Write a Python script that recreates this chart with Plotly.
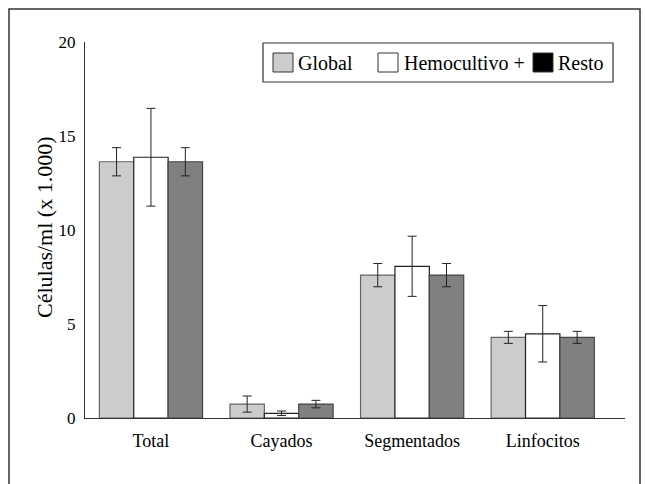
import plotly.graph_objects as go

categories = ["Total", "Cayados", "Segmentados", "Linfocitos"]
series_names = ["Global", "Hemocultivo +", "Resto"]
global_vals = [13.63, 0.74, 7.60, 4.29]
global_err = [0.75, 0.43, 0.62, 0.32]
hemo_vals = [13.87, 0.25, 8.07, 4.48]
hemo_err = [2.60, 0.12, 1.60, 1.50]
resto_vals = [13.63, 0.74, 7.60, 4.29]
resto_err = [0.75, 0.20, 0.62, 0.32]
y_ticks = [0, 5, 10, 15, 20]

bar_colors = ["#cccccc", "#ffffff", "#808080"]
line_colors = ["#666666", "#222222", "#444444"]
legend_colors = ["#cccccc", "#ffffff", "#000000"]

FONT = "Liberation Serif"

fig = go.Figure()
for name, vals, errs, col, lc in zip(series_names,
                                      [global_vals, hemo_vals, resto_vals],
                                      [global_err, hemo_err, resto_err],
                                      bar_colors, line_colors):
    fig.add_trace(go.Bar(
        x=categories, y=vals, name=name, showlegend=False,
        marker=dict(color=col, line=dict(color=lc, width=1.2)),
        error_y=dict(type="data", array=errs, visible=True,
                     color="#222222", thickness=1, width=4.5),
    ))

W, H = 645, 484
ml, mr, mt, mb = 85, 20, 42, 66
pw, ph = W - ml - mr, H - mt - mb

def px(x):
    return (x - ml) / pw

def py(y):
    return (H - mb - y) / ph

shapes = []
annotations = []
# outer frame
shapes.append(dict(type="rect", xref="paper", yref="paper",
                   x0=px(9), x1=px(640), y0=py(500), y1=py(9),
                   line=dict(color="#333333", width=1.5), fillcolor="rgba(0,0,0,0)"))
# legend box
shapes.append(dict(type="rect", xref="paper", yref="paper",
                   x0=px(263), x1=px(613), y0=py(82), y1=py(43),
                   line=dict(color="#333333", width=1.2), fillcolor="white"))
sq_x = [273, 378, 533]
txt_x = [296, 402, 556]
for sx, tx, name, col in zip(sq_x, txt_x, series_names, legend_colors):
    shapes.append(dict(type="rect", xref="paper", yref="paper",
                       x0=px(sx), x1=px(sx + 20), y0=py(72), y1=py(53),
                       line=dict(color="#333333", width=1), fillcolor=col))
    annotations.append(dict(text=name, xref="paper", yref="paper",
                            x=px(tx), y=py(63), xanchor="left", yanchor="middle",
                            showarrow=False, font=dict(family=FONT, size=20, color="black")))
# y-axis title
annotations.append(dict(text="Células/ml (x 1.000)", xref="paper", yref="paper",
                        x=px(44), y=py(228), textangle=-90, showarrow=False,
                        xanchor="center", yanchor="middle",
                        font=dict(family=FONT, size=22, color="black")))

fig.update_layout(
    width=W, height=H,
    margin=dict(l=ml, r=mr, t=mt, b=mb),
    paper_bgcolor="white", plot_bgcolor="white",
    barmode="group", bargap=0.21, bargroupgap=0,
    font=dict(family=FONT, size=17, color="black"),
    shapes=shapes, annotations=annotations,
    xaxis=dict(range=[-0.505, 3.63], showline=True, linecolor="#333333", linewidth=1.2,
               ticks="outside", ticklen=6, tickcolor="rgba(0,0,0,0)",
               tickfont=dict(family=FONT, size=18), showgrid=False, zeroline=False),
    yaxis=dict(range=[0, 20], tickvals=y_ticks, showline=True, linecolor="#333333",
               linewidth=1.2, ticks="outside", ticklen=5, tickcolor="rgba(0,0,0,0)",
               tickfont=dict(family=FONT, size=17), showgrid=False, zeroline=False),
)

fig.write_html("out.html", config={"displayModeBar": False},
               post_script="document.body.style.margin='0';")
